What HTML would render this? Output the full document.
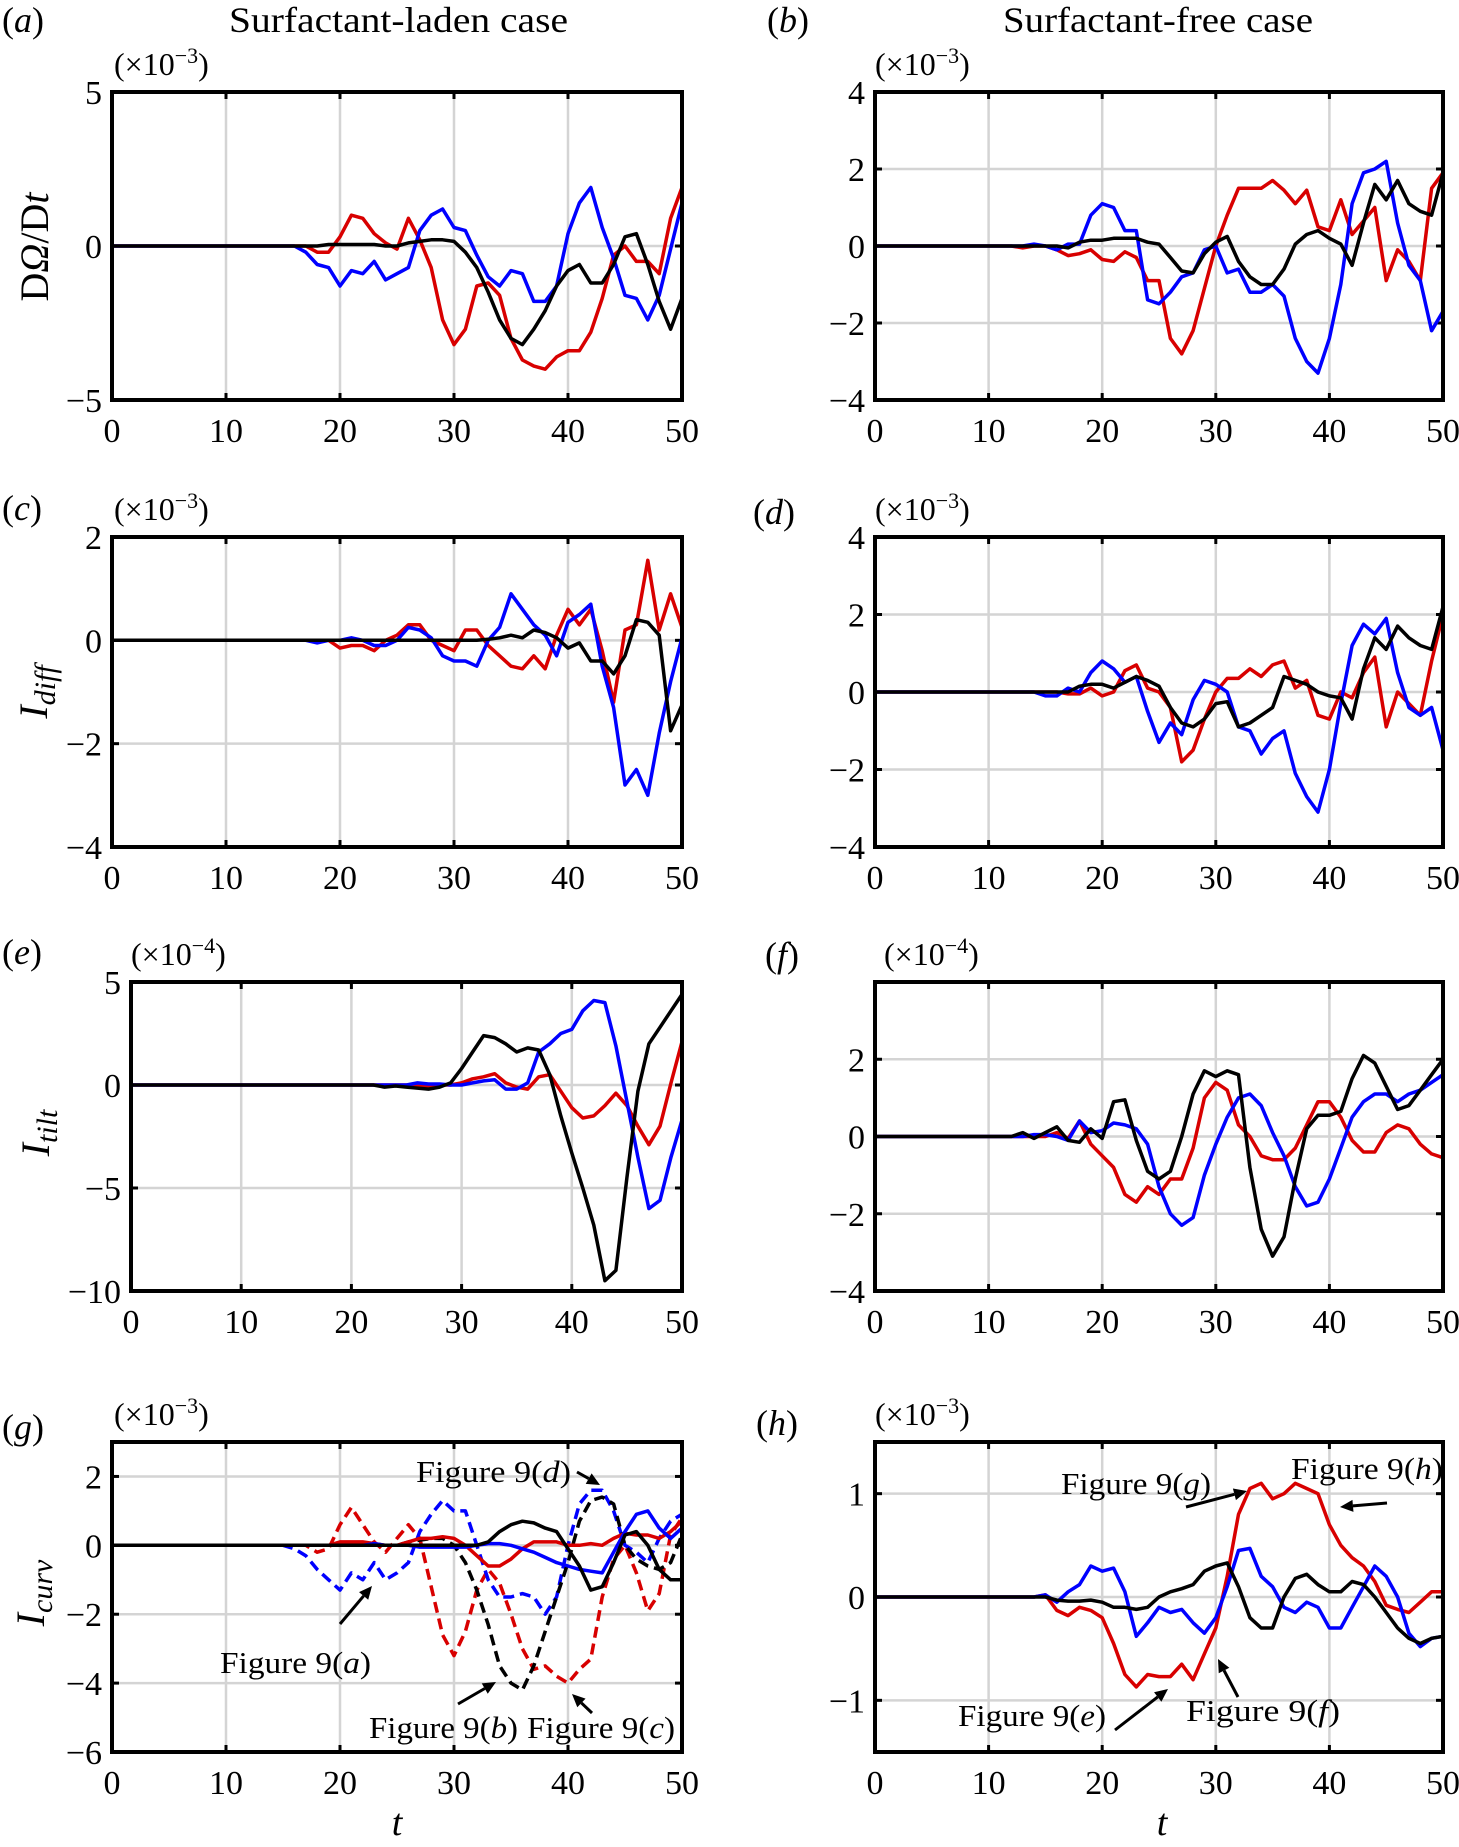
<!DOCTYPE html>
<html><head><meta charset="utf-8"><style>
html,body{margin:0;padding:0;background:#fff}
svg{display:block;font-family:"Liberation Serif",serif}
</style></head><body>
<svg id="fig" width="1459" height="1847" viewBox="0 0 1459 1847" xmlns="http://www.w3.org/2000/svg">
<text x="229" y="32" font-size="36" textLength="339" lengthAdjust="spacingAndGlyphs">Surfactant-laden case</text>
<text x="1003" y="32" font-size="36" textLength="310" lengthAdjust="spacingAndGlyphs">Surfactant-free case</text>
<text x="397" y="1835" font-size="38" font-style="italic" text-anchor="middle">t</text>
<text x="1162" y="1835" font-size="38" font-style="italic" text-anchor="middle">t</text>
</svg>
<script>
const tValues = [0,1,2,3,4,5,6,7,8,9,10,11,12,13,14,15,16,17,18,19,20,21,22,23,24,25,26,27,28,29,30,31,32,33,34,35,36,37,38,39,40,41,42,43,44,45,46,47,48,49,50];
const xTicks = [0,10,20,30,40,50];
// panel a
const aRed   = [0,0,0,0,0,0,0,0,0,0,0,0,0,0,0,0,0,0,-0.2,-0.2,0.3,1.0,0.9,0.4,0.1,-0.1,0.9,0.2,-0.7,-2.4,-3.2,-2.7,-1.3,-1.2,-1.6,-3.0,-3.7,-3.9,-4.0,-3.6,-3.4,-3.4,-2.8,-1.7,-0.3,0.0,-0.5,-0.5,-0.9,0.9,1.9];
const aBlue  = [0,0,0,0,0,0,0,0,0,0,0,0,0,0,0,0,0,-0.2,-0.6,-0.7,-1.3,-0.8,-0.9,-0.5,-1.1,-0.9,-0.7,0.5,1.0,1.2,0.6,0.5,-0.3,-1.0,-1.3,-0.8,-0.9,-1.8,-1.8,-1.3,0.4,1.4,1.9,0.6,-0.4,-1.6,-1.7,-2.4,-1.6,-0.1,1.4];
const aBlack = [0,0,0,0,0,0,0,0,0,0,0,0,0,0,0,0,0,0,0,0.05,0.05,0.05,0.05,0.05,0.0,0.0,0.1,0.15,0.2,0.2,0.15,-0.2,-0.7,-1.5,-2.4,-3.0,-3.2,-2.7,-2.1,-1.3,-0.8,-0.6,-1.2,-1.2,-0.6,0.3,0.4,-0.6,-1.8,-2.7,-1.7];
const aTicks = [-5,0,5];
// panel b
const bRed   = [0,0,0,0,0,0,0,0,0,0,0,0,0,-0.05,0,0,-0.1,-0.25,-0.2,-0.1,-0.35,-0.4,-0.15,-0.3,-0.9,-0.9,-2.4,-2.8,-2.2,-1.1,0.0,0.8,1.5,1.5,1.5,1.7,1.45,1.1,1.45,0.5,0.4,1.2,0.3,0.65,1.0,-0.9,-0.1,-0.4,-0.9,1.5,1.9];
const bBlue  = [0,0,0,0,0,0,0,0,0,0,0,0,0,0,0.05,0,-0.1,0.05,0.05,0.8,1.1,1.0,0.4,0.4,-1.4,-1.5,-1.2,-0.8,-0.7,-0.1,0.0,-0.7,-0.6,-1.2,-1.2,-1.0,-1.3,-2.4,-3.0,-3.3,-2.4,-1.0,1.1,1.9,2.0,2.2,0.6,-0.5,-0.9,-2.2,-1.7];
const bBlack = [0,0,0,0,0,0,0,0,0,0,0,0,0,0,0,0,0,-0.05,0.1,0.15,0.15,0.2,0.2,0.2,0.1,0.05,-0.3,-0.65,-0.7,-0.2,0.1,0.25,-0.4,-0.8,-1.0,-1.0,-0.6,0.05,0.3,0.4,0.2,0.05,-0.5,0.6,1.6,1.2,1.7,1.1,0.9,0.8,1.9];
const bTicks = [-4,-2,0,2,4];
// panel c
const cRed   = [0,0,0,0,0,0,0,0,0,0,0,0,0,0,0,0,0,0,0,0,-0.15,-0.1,-0.1,-0.2,0.0,0.1,0.3,0.3,0.0,-0.1,-0.2,0.2,0.2,-0.1,-0.3,-0.5,-0.55,-0.3,-0.55,0.1,0.6,0.3,0.6,-0.2,-1.2,0.2,0.3,1.55,0.2,0.9,0.25];
const cBlue  = [0,0,0,0,0,0,0,0,0,0,0,0,0,0,0,0,0,0,-0.05,0,0,0.05,0,-0.1,-0.1,0.0,0.25,0.2,0.05,-0.3,-0.4,-0.4,-0.5,0.0,0.25,0.9,0.6,0.3,0.1,-0.3,0.35,0.5,0.7,-0.5,-1.3,-2.8,-2.5,-3.0,-1.8,-0.8,0.05];
const cBlack = [0,0,0,0,0,0,0,0,0,0,0,0,0,0,0,0,0,0,0,0,0,0,0,0,0,0,0,0,0,0,0,0,0,0.02,0.05,0.1,0.05,0.2,0.15,0.05,-0.15,-0.05,-0.4,-0.4,-0.65,-0.3,0.4,0.35,0.1,-1.75,-1.25];
const cTicks = [-4,-2,0,2];
// panel d
const dRed   = [0,0,0,0,0,0,0,0,0,0,0,0,0,0,0,0,0,-0.05,-0.05,0.1,-0.1,0.0,0.55,0.7,0.1,0.0,-0.4,-1.8,-1.5,-0.7,0.0,0.35,0.35,0.6,0.4,0.7,0.8,0.1,0.3,-0.6,-0.7,0.0,-0.15,0.5,0.9,-0.9,0.0,-0.3,-0.6,0.8,2.0];
const dBlue  = [0,0,0,0,0,0,0,0,0,0,0,0,0,0,0,-0.1,-0.1,0.1,0.0,0.5,0.8,0.6,0.25,0.4,-0.5,-1.3,-0.8,-1.1,-0.2,0.3,0.2,0.0,-0.9,-1.0,-1.6,-1.2,-1.0,-2.1,-2.7,-3.1,-2.0,-0.3,1.2,1.75,1.5,1.9,0.5,-0.4,-0.6,-0.4,-1.5];
const dBlack = [0,0,0,0,0,0,0,0,0,0,0,0,0,0,0,0,0,0,0.15,0.2,0.2,0.1,0.25,0.4,0.3,0.15,-0.4,-0.8,-0.9,-0.7,-0.3,-0.25,-0.9,-0.8,-0.6,-0.4,0.4,0.3,0.2,0.0,-0.1,-0.15,-0.7,0.6,1.4,1.1,1.7,1.4,1.2,1.1,2.2];
const dTicks = [-4,-2,0,2,4];
// panel e (x1e-4)
const eRed   = [0,0,0,0,0,0,0,0,0,0,0,0,0,0,0,0,0,0,0,0,0,0,0,0,0,0,-0.05,-0.05,0,0,0.1,0.3,0.4,0.55,0.1,-0.1,-0.2,0.4,0.5,-0.3,-1.1,-1.6,-1.5,-1.0,-0.4,-1.0,-2.0,-2.9,-2.0,0.1,2.1];
const eBlue  = [0,0,0,0,0,0,0,0,0,0,0,0,0,0,0,0,0,0,0,0,0,0,0,0,0,0,0.1,0.05,0.05,0.0,0.0,0.1,0.2,0.25,-0.2,-0.2,0.1,1.6,2.0,2.5,2.7,3.6,4.1,4.0,1.9,-0.8,-3.5,-6.0,-5.6,-3.5,-1.7];
const eBlack = [0,0,0,0,0,0,0,0,0,0,0,0,0,0,0,0,0,0,0,0,0,0,0,-0.1,-0.05,-0.1,-0.15,-0.2,-0.1,0.1,0.8,1.6,2.4,2.3,2.0,1.6,1.8,1.7,0.5,-1.5,-3.3,-5.0,-6.8,-9.5,-9.0,-4.5,-0.3,2.0,2.8,3.6,4.4];
const eTicks = [-10,-5,0,5];
// panel f (x1e-4)
const fRed   = [0,0,0,0,0,0,0,0,0,0,0,0,0,0,0,0,0.1,-0.05,0.4,-0.2,-0.5,-0.8,-1.5,-1.7,-1.3,-1.5,-1.1,-1.1,-0.3,1.0,1.4,1.2,0.3,0.0,-0.5,-0.6,-0.6,-0.3,0.3,0.9,0.9,0.5,-0.1,-0.4,-0.4,0.1,0.3,0.2,-0.2,-0.45,-0.55];
const fBlue  = [0,0,0,0,0,0,0,0,0,0,0,0,0,0,0.05,0.05,0.0,-0.1,0.4,0.1,0.15,0.35,0.3,0.2,-0.2,-1.3,-2.0,-2.3,-2.1,-1.0,-0.2,0.5,1.0,1.1,0.8,0.1,-0.5,-1.3,-1.8,-1.7,-1.1,-0.3,0.5,0.9,1.1,1.1,0.9,1.1,1.2,1.4,1.6];
const fBlack = [0,0,0,0,0,0,0,0,0,0,0,0,0,0.1,-0.05,0.1,0.25,-0.1,-0.15,0.2,-0.05,0.9,0.95,-0.1,-0.9,-1.1,-0.9,0.0,1.1,1.7,1.55,1.7,1.6,-0.8,-2.4,-3.1,-2.6,-1.1,0.2,0.55,0.55,0.65,1.5,2.1,1.9,1.3,0.7,0.8,1.2,1.6,2.0];
const fTicks = [-4,-2,0,2,4];
const fTickLabels = ['\u22124','\u22122','0','2',''];
// panel g
const gRedDash   = [0,0,0,0,0,0,0,0,0,0,0,0,0,0,0,0,0,0,-0.2,-0.1,0.6,1.1,0.6,0.1,-0.2,0.2,0.6,0.2,-1.2,-2.6,-3.2,-2.5,-1.3,-0.7,-1.1,-2.0,-3.0,-3.6,-3.5,-3.8,-4.0,-3.6,-3.3,-1.5,-0.4,0.0,-0.8,-1.9,-1.4,0.3,0.8];
const gBlueDash  = [0,0,0,0,0,0,0,0,0,0,0,0,0,0,0,0,-0.1,-0.3,-0.7,-1.0,-1.3,-0.8,-1.0,-0.5,-1.0,-0.8,-0.5,0.4,0.9,1.3,1.0,1.0,0.0,-1.0,-1.5,-1.5,-1.4,-1.5,-2.0,-1.5,0.0,1.2,1.6,1.6,1.0,0.0,-0.2,-0.5,0.2,0.7,0.9];
const gBlackDash = [0,0,0,0,0,0,0,0,0,0,0,0,0,0,0,0,0,0,0,0,0,0,0,0,0,0,0.1,0.15,0.2,0.2,0.0,-0.5,-1.3,-2.3,-3.5,-4.0,-4.2,-3.5,-2.5,-1.5,-0.5,0.7,1.3,1.4,1.2,0.0,-0.4,-0.6,-0.7,-0.5,0.3];
const gRed   = [0,0,0,0,0,0,0,0,0,0,0,0,0,0,0,0,0,0,0,0,0.1,0.1,0.1,0.05,0.0,0.0,0.1,0.2,0.2,0.25,0.2,0.0,-0.3,-0.6,-0.6,-0.4,-0.1,0.1,0.1,0.1,0.0,0.0,0.05,0.0,0.2,0.35,0.3,0.3,0.2,0.4,0.7];
const gBlue  = [0,0,0,0,0,0,0,0,0,0,0,0,0,0,0,0,0,0,0,0,0,0,0,0.05,0.0,0.0,0.0,-0.05,-0.05,-0.05,-0.05,-0.05,0.0,0.05,0.05,0.0,-0.1,-0.2,-0.35,-0.5,-0.6,-0.7,-0.75,-0.8,-0.2,0.4,0.9,1.0,0.5,0.2,0.5];
const gBlack = [0,0,0,0,0,0,0,0,0,0,0,0,0,0,0,0,0,0,0,0,0,0,0,0,0,0,0,0,0,0,0,0,0,0.1,0.4,0.6,0.7,0.65,0.5,0.4,-0.1,-0.6,-1.3,-1.2,-0.5,0.3,0.4,0.0,-0.7,-1.0,-1.0];
const gTicks = [-6,-4,-2,0,2];
// panel h
const hRed   = [0,0,0,0,0,0,0,0,0,0,0,0,0,0,0,0.02,-0.13,-0.18,-0.1,-0.13,-0.2,-0.45,-0.75,-0.87,-0.75,-0.77,-0.77,-0.65,-0.8,-0.55,-0.3,0.2,0.8,1.05,1.1,0.95,1.0,1.1,1.05,1.0,0.7,0.5,0.38,0.3,0.15,-0.08,-0.12,-0.15,-0.05,0.05,0.05];
const hBlue  = [0,0,0,0,0,0,0,0,0,0,0,0,0,0,0,0.02,-0.05,0.05,0.12,0.3,0.25,0.28,0.05,-0.38,-0.25,-0.1,-0.15,-0.12,-0.25,-0.35,-0.2,0.1,0.45,0.47,0.2,0.1,-0.1,-0.15,-0.05,-0.1,-0.3,-0.3,-0.1,0.1,0.3,0.2,0.0,-0.35,-0.48,-0.4,-0.38];
const hBlack = [0,0,0,0,0,0,0,0,0,0,0,0,0,0,0,0,-0.03,-0.04,-0.04,-0.03,-0.05,-0.1,-0.1,-0.12,-0.1,0.0,0.05,0.08,0.12,0.25,0.3,0.33,0.1,-0.2,-0.3,-0.3,0.0,0.18,0.22,0.12,0.05,0.05,0.15,0.12,0.0,-0.15,-0.3,-0.4,-0.45,-0.4,-0.38];
const hTicks = [-1,0,1];

const NS = 'http://www.w3.org/2000/svg';
const svg = document.getElementById('fig');
const RED = '#d80000', BLUE = '#0000ff', BLACK = '#000000';
function mk(tag, attrs, parent) {
  const e = document.createElementNS(NS, tag);
  for (const k in attrs) e.setAttribute(k, attrs[k]);
  (parent || svg).appendChild(e);
  return e;
}
function fmt(v) { return v < 0 ? '\u2212' + Math.abs(v) : String(v); }

function panel(p) {
  const g = mk('g', {});
  
  
  const xs = t => p.x0 + (t - 0) / 50 * (p.x1 - p.x0);
  const ys = v => p.y1 - (v - p.ymin) / (p.ymax - p.ymin) * (p.y1 - p.y0);
  xTicks.forEach(t => {
    if (t > 0 && t < 50) {
      const l = mk('line', {x1: xs(t), x2: xs(t), y1: p.y0, y2: p.y1, stroke: '#d4d4d4', 'stroke-width': 2.5}, g);
      
      
    }
    const tk = mk('text', {x: xs(t), y: p.y1 + 42, 'font-size': 34, 'text-anchor': 'middle'}, g);
    tk.textContent = t;
    
    
    mk('line', {x1: xs(t), x2: xs(t), y1: p.y1, y2: p.y1 - 7, stroke: '#000', 'stroke-width': 3}, g);
    mk('line', {x1: xs(t), x2: xs(t), y1: p.y0, y2: p.y0 + 7, stroke: '#000', 'stroke-width': 3}, g);
  });
  p.yticks.forEach((v, i) => {
    if (v > p.ymin && v < p.ymax) {
      const l = mk('line', {x1: p.x0, x2: p.x1, y1: ys(v), y2: ys(v), stroke: '#d4d4d4', 'stroke-width': 2.5}, g);
      
      
    }
    const lab = p.ylabels ? p.ylabels[i] : fmt(v);
    const tk = mk('text', {x: p.x0 - 10, y: ys(v) + 12, 'font-size': 34, 'text-anchor': 'end'}, g);
    tk.textContent = lab;
    
    
    mk('line', {x1: p.x0, x2: p.x0 + 7, y1: ys(v), y2: ys(v), stroke: '#000', 'stroke-width': 3}, g);
    mk('line', {x1: p.x1, x2: p.x1 - 7, y1: ys(v), y2: ys(v), stroke: '#000', 'stroke-width': 3}, g);
  });
  p.series.forEach(s => {
    const pts = tValues.map((t, i) => xs(t).toFixed(1) + ',' + ys(s.vals[i]).toFixed(1)).join(' ');
    const attrs = {points: pts, fill: 'none', stroke: s.color, 'stroke-width': 3.5, 'stroke-linejoin': 'round'};
    if (s.dash) attrs['stroke-dasharray'] = '11 6';
    const pl = mk('polyline', attrs, g);
    
    
  });
  const fr = mk('rect', {x: p.x0, y: p.y0, width: p.x1 - p.x0, height: p.y1 - p.y0, fill: 'none', stroke: '#000', 'stroke-width': 4}, g);
  
  
  const m = mk('text', {x: p.mx, y: p.y0 - 17, 'font-size': 32}, g);
  
  
  m.innerHTML = '(\u00d710<tspan dy="-12" font-size="22">' + p.mult + '</tspan><tspan dy="12">)</tspan>';
  const L = mk('text', {x: p.lx, y: p.ly, 'font-size': 36}, g);
  
  
  L.innerHTML = '(<tspan font-style="italic">' + p.id + '</tspan>)';
}

const L0 = 112, L1 = 682, R0 = 875, R1 = 1443;
const rows = [[92, 400], [537, 847], [982, 1291], [1442, 1752]];
panel({id: 'a', x0: L0, x1: L1, y0: rows[0][0], y1: rows[0][1], ymin: -5, ymax: 5, yticks: aTicks, mult: '\u22123', mx: 114, lx: 2, ly: 32,
  series: [{vals: aRed, color: RED, name: 'series-red'}, {vals: aBlue, color: BLUE, name: 'series-blue'}, {vals: aBlack, color: BLACK, name: 'series-black'}]});
panel({id: 'b', x0: R0, x1: R1, y0: rows[0][0], y1: rows[0][1], ymin: -4, ymax: 4, yticks: bTicks, mult: '\u22123', mx: 875, lx: 767, ly: 32,
  series: [{vals: bRed, color: RED, name: 'series-red'}, {vals: bBlue, color: BLUE, name: 'series-blue'}, {vals: bBlack, color: BLACK, name: 'series-black'}]});
panel({id: 'c', x0: L0, x1: L1, y0: rows[1][0], y1: rows[1][1], ymin: -4, ymax: 2, yticks: cTicks, mult: '\u22123', mx: 114, lx: 2, ly: 520,
  series: [{vals: cRed, color: RED, name: 'series-red'}, {vals: cBlue, color: BLUE, name: 'series-blue'}, {vals: cBlack, color: BLACK, name: 'series-black'}]});
panel({id: 'd', x0: R0, x1: R1, y0: rows[1][0], y1: rows[1][1], ymin: -4, ymax: 4, yticks: dTicks, mult: '\u22123', mx: 875, lx: 753, ly: 524,
  series: [{vals: dRed, color: RED, name: 'series-red'}, {vals: dBlue, color: BLUE, name: 'series-blue'}, {vals: dBlack, color: BLACK, name: 'series-black'}]});
panel({id: 'e', x0: 131, x1: L1, y0: rows[2][0], y1: rows[2][1], ymin: -10, ymax: 5, yticks: eTicks, mult: '\u22124', mx: 131, lx: 2, ly: 964,
  series: [{vals: eRed, color: RED, name: 'series-red'}, {vals: eBlue, color: BLUE, name: 'series-blue'}, {vals: eBlack, color: BLACK, name: 'series-black'}]});
panel({id: 'f', x0: R0, x1: R1, y0: rows[2][0], y1: rows[2][1], ymin: -4, ymax: 4, yticks: fTicks, ylabels: fTickLabels, mult: '\u22124', mx: 884, lx: 765, ly: 967,
  series: [{vals: fRed, color: RED, name: 'series-red'}, {vals: fBlue, color: BLUE, name: 'series-blue'}, {vals: fBlack, color: BLACK, name: 'series-black'}]});
panel({id: 'g', x0: L0, x1: L1, y0: rows[3][0], y1: rows[3][1], ymin: -6, ymax: 3, yticks: gTicks, mult: '\u22123', mx: 114, lx: 2, ly: 1439,
  series: [{vals: gRedDash, color: RED, dash: true, name: 'series-red-dashed'}, {vals: gBlueDash, color: BLUE, dash: true, name: 'series-blue-dashed'}, {vals: gBlackDash, color: BLACK, dash: true, name: 'series-black-dashed'},
           {vals: gRed, color: RED, name: 'series-red'}, {vals: gBlue, color: BLUE, name: 'series-blue'}, {vals: gBlack, color: BLACK, name: 'series-black'}]});
panel({id: 'h', x0: R0, x1: R1, y0: rows[3][0], y1: rows[3][1], ymin: -1.5, ymax: 1.5, yticks: hTicks, mult: '\u22123', mx: 875, lx: 756, ly: 1435,
  series: [{vals: hRed, color: RED, name: 'series-red'}, {vals: hBlue, color: BLUE, name: 'series-blue'}, {vals: hBlack, color: BLACK, name: 'series-black'}]});

function ytitle(x, y, html, name) {
  const t = mk('text', {x: 0, y: 0, 'font-size': 40, 'text-anchor': 'middle', transform: 'translate(' + x + ',' + y + ') rotate(-90)'});
  t.innerHTML = html;
  
  
}
ytitle(48, 247, 'D<tspan font-style="italic">\u03a9</tspan>/D<tspan font-style="italic">t</tspan>', 'y-axis-title-a');
ytitle(47, 692, '<tspan font-style="italic">I</tspan><tspan font-style="italic" font-size="30" dy="8">diff</tspan>', 'y-axis-title-c');
ytitle(49, 1133, '<tspan font-style="italic">I</tspan><tspan font-style="italic" font-size="30" dy="8">tilt</tspan>', 'y-axis-title-e');
ytitle(44, 1593, '<tspan font-style="italic">I</tspan><tspan font-style="italic" font-size="30" dy="8">curv</tspan>', 'y-axis-title-g');

function note(x, y, w, label, name) {
  const t = mk('text', {x: x, y: y, 'font-size': 31, textLength: w, lengthAdjust: 'spacingAndGlyphs'});
  t.innerHTML = 'Figure 9(<tspan font-style="italic">' + label + '</tspan>)';
  
  
}
function arrow(x1, y1, x2, y2, name) {
  const a = Math.atan2(y2 - y1, x2 - x1), h = 13, w = 6;
  const bx = x2 - h * Math.cos(a), by = y2 - h * Math.sin(a);
  const g = mk('g', {});
  
  
  mk('line', {x1: x1, y1: y1, x2: bx, y2: by, stroke: '#000', 'stroke-width': 3}, g);
  mk('polygon', {points: [x2, y2, bx - w * Math.sin(a), by + w * Math.cos(a), bx + w * Math.sin(a), by - w * Math.cos(a)].join(','), fill: '#000'}, g);
}
note(416, 1482, 155, 'd', 'annotation-figure-9d');
arrow(577, 1472, 600, 1485, 'arrow-9d');
note(220, 1673, 151, 'a', 'annotation-figure-9a');
arrow(340, 1624, 372, 1586, 'arrow-9a');
note(369, 1738, 149, 'b', 'annotation-figure-9b');
arrow(458, 1704, 496, 1682, 'arrow-9b');
note(527, 1738, 148, 'c', 'annotation-figure-9c');
arrow(592, 1713, 572, 1694, 'arrow-9c');
note(1061, 1494, 150, 'g', 'annotation-figure-9g');
arrow(1186, 1507, 1247, 1491, 'arrow-9g');
note(1291, 1479, 152, 'h', 'annotation-figure-9h');
arrow(1387, 1503, 1340, 1507, 'arrow-9h');
note(958, 1726, 148, 'e', 'annotation-figure-9e');
arrow(1115, 1730, 1168, 1689, 'arrow-9e');
note(1186, 1721, 154, 'f', 'annotation-figure-9f');
arrow(1238, 1697, 1218, 1659, 'arrow-9f');
</script>
</body></html>
